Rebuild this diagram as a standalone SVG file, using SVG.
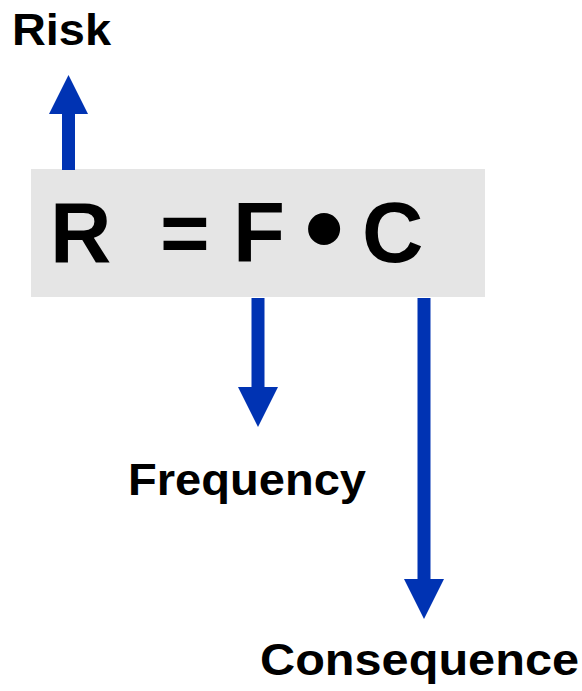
<svg xmlns="http://www.w3.org/2000/svg" width="582" height="691" viewBox="0 0 582 691">
<style>
.t{font-family:"Liberation Sans",Arial,sans-serif;font-weight:bold;fill:#000}
.eq{font-size:85px}
.lbl{font-size:44px}
.arr{fill:#0033b3}
</style>
<rect width="582" height="691" fill="#fff"/>
<g id="formula">
<rect x="31" y="169" width="454" height="128" fill="#e5e5e5"/>
<text class="t eq" x="50" y="262">R</text>
<text class="t eq" x="160" y="262">=</text>
<text class="t eq" x="233" y="262">F</text>
<text class="t" x="324" y="266" text-anchor="middle" font-size="112">•</text>
<text class="t eq" x="362" y="262">C</text>
</g>
<g id="risk"><text class="t lbl" x="12" y="45" textLength="99" lengthAdjust="spacingAndGlyphs">Risk</text></g>
<g id="frequency"><text class="t lbl" x="128" y="495" textLength="238" lengthAdjust="spacingAndGlyphs">Frequency</text></g>
<g id="consequence"><text class="t lbl" x="260" y="675" textLength="319" lengthAdjust="spacingAndGlyphs">Consequence</text></g>
<g id="connectors" class="arr">
<polygon points="62,170 62,114 49,114 68.5,75 88,114 75,114 75,170"/>
<polygon points="251.5,298 251.5,387 238,387 258,427 278,387 264.5,387 264.5,298"/>
<polygon points="417.5,298 417.5,579 404,579 424,619 444,579 430.5,579 430.5,298"/>
</g>
</svg>
